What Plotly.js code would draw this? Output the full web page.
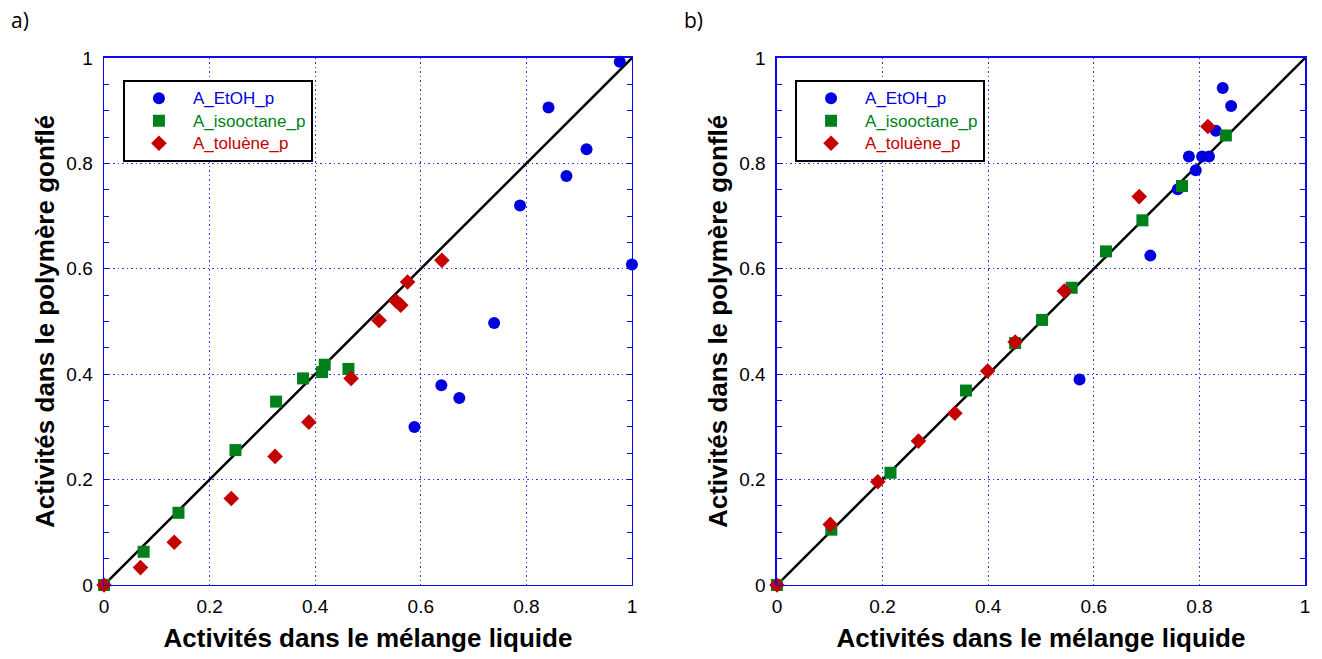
<!DOCTYPE html>
<html><head><meta charset="utf-8">
<script src="https://cdn.plot.ly/plotly-3.0.1.min.js"></script>
<style>html,body{margin:0;padding:0;background:#fff}#chart{width:1322px;height:659px}</style>
</head><body><div id="chart"></div>
<script>
// Panel a)
const aEtOH_x = [0.977, 0.842, 0.914, 0.876, 0.788, 1.0, 0.739, 0.639, 0.673, 0.588];
const aEtOH_y = [0.993, 0.906, 0.827, 0.776, 0.720, 0.608, 0.497, 0.379, 0.355, 0.300];
const aIso_x = [0, 0.075, 0.141, 0.249, 0.326, 0.377, 0.413, 0.418, 0.463];
const aIso_y = [0, 0.063, 0.137, 0.256, 0.348, 0.392, 0.404, 0.418, 0.410];
const aTol_x = [0, 0.069, 0.133, 0.241, 0.324, 0.388, 0.468, 0.521, 0.553, 0.562, 0.575, 0.640];
const aTol_y = [0, 0.033, 0.081, 0.164, 0.244, 0.309, 0.392, 0.502, 0.539, 0.531, 0.575, 0.616];
// Panel b)
const bEtOH_x = [0.844, 0.860, 0.831, 0.780, 0.805, 0.818, 0.793, 0.759, 0.707, 0.573];
const bEtOH_y = [0.943, 0.909, 0.862, 0.813, 0.813, 0.813, 0.787, 0.751, 0.625, 0.390];
const bIso_x = [0, 0.103, 0.215, 0.358, 0.451, 0.502, 0.558, 0.623, 0.692, 0.767, 0.850];
const bIso_y = [0, 0.105, 0.213, 0.369, 0.459, 0.503, 0.564, 0.633, 0.692, 0.757, 0.853];
const bTol_x = [0, 0.101, 0.191, 0.268, 0.337, 0.399, 0.451, 0.544, 0.686, 0.816];
const bTol_y = [0, 0.115, 0.196, 0.273, 0.326, 0.406, 0.461, 0.558, 0.737, 0.870];
// y = x reference line
const diag = [0, 1];
const seriesNames = ['A_EtOH_p', 'A_isooctane_p', 'A_toluène_p'];
const panelLabels = ['a)', 'b)'];
const xTitle = 'Activités dans le mélange liquide';
const yTitle = 'Activités dans le polymère gonflé';

const BLUE = '#0000dd', GREEN = '#007f1a', RED = '#c40000';
const AX = '#0a0aee';
const GRID = '#3535ee';

function pts(x, y, i, sym, color, size, xa, ya, leg) {
  return {x, y, type: 'scatter', mode: 'markers', cliponaxis: false,
    name: '<span style="color:' + color + ';font-size:17px">' + seriesNames[i] + '</span>',
    marker: {symbol: sym, color, size},
    xaxis: xa, yaxis: ya, legend: leg};
}
function line(xa, ya) {
  return {x: diag, y: diag, type: 'scatter', mode: 'lines', showlegend: false,
    line: {color: '#000', width: 2.5}, xaxis: xa, yaxis: ya, cliponaxis: false};
}

const data = [
  line('x', 'y'),
  pts(aEtOH_x, aEtOH_y, 0, 'circle', BLUE, 12, 'x', 'y', 'legend'),
  pts(aIso_x, aIso_y, 1, 'square', GREEN, 12, 'x', 'y', 'legend'),
  pts(aTol_x, aTol_y, 2, 'diamond', RED, 12, 'x', 'y', 'legend'),
  line('x2', 'y2'),
  pts(bEtOH_x, bEtOH_y, 0, 'circle', BLUE, 12, 'x2', 'y2', 'legend2'),
  pts(bIso_x, bIso_y, 1, 'square', GREEN, 12, 'x2', 'y2', 'legend2'),
  pts(bTol_x, bTol_y, 2, 'diamond', RED, 12, 'x2', 'y2', 'legend2'),
];

const tickFont = {family: 'Liberation Sans', size: 19, color: '#000'};
const titleFont = {family: 'Liberation Sans', size: 26, color: '#000', weight: 'bold'};

function xax(domain, anchor) {
  return {domain, anchor, range: [0, 1], dtick: 0.2, tick0: 0, showgrid: true,
    gridcolor: GRID, griddash: '1.5px,3px', gridwidth: 1, zeroline: false,
    showline: true, linecolor: AX, linewidth: 1.5, mirror: true, ticks: '',
    tickfont: tickFont, automargin: false, ticklabelstandoff: 4,
    title: {text: xTitle, font: titleFont, standoff: 12}};
}
function yax(domain, anchor) {
  return {domain, anchor, range: [0, 1], dtick: 0.2, tick0: 0, showgrid: true,
    gridcolor: GRID, griddash: '1.5px,3px', gridwidth: 1, zeroline: false,
    showline: true, linecolor: AX, linewidth: 1.5, mirror: 'ticks',
    ticks: 'inside', ticklen: 5, tickcolor: AX, tickwidth: 1,
    minor: {dtick: 0.05, ticks: 'inside', ticklen: 5, tickcolor: AX, tickwidth: 1, showgrid: false},
    tickfont: tickFont, automargin: false, ticklabelstandoff: 6,
    title: {text: yTitle, font: titleFont, standoff: 4}};
}
const legFont = {family: 'Liberation Sans', size: 15, color: '#000'};
function leg(x) {
  return {x, y: 0.8786, xanchor: 'left', yanchor: 'top', xref: 'paper', yref: 'paper',
    bgcolor: '#fff', bordercolor: '#000', borderwidth: 2, font: legFont,
    itemwidth: 58, tracegroupgap: 0};
}

const layout = {
  width: 1322, height: 659, margin: {l: 0, r: 0, t: 0, b: 0},
  paper_bgcolor: '#fff', plot_bgcolor: '#fff', showlegend: true,
  xaxis: xax([0.0787, 0.478], 'y'),
  yaxis: yax([0.1123, 0.912], 'x'),
  xaxis2: xax([0.5877, 0.9872], 'y2'),
  yaxis2: yax([0.1123, 0.912], 'x2'),
  legend: leg(0.093),
  legend2: leg(0.6014),
  annotations: [
    {text: panelLabels[0], xref: 'paper', yref: 'paper', x: 0.007, y: 0.97, xanchor: 'left', yanchor: 'middle', showarrow: false, font: {family: 'Open Sans, sans-serif', size: 21, color: '#000'}},
    {text: panelLabels[1], xref: 'paper', yref: 'paper', x: 0.516, y: 0.97, xanchor: 'left', yanchor: 'middle', showarrow: false, font: {family: 'Open Sans, sans-serif', size: 21, color: '#000'}},
  ],
};
Plotly.newPlot('chart', data, layout, {displayModeBar: false, staticPlot: true});
</script></body></html>
